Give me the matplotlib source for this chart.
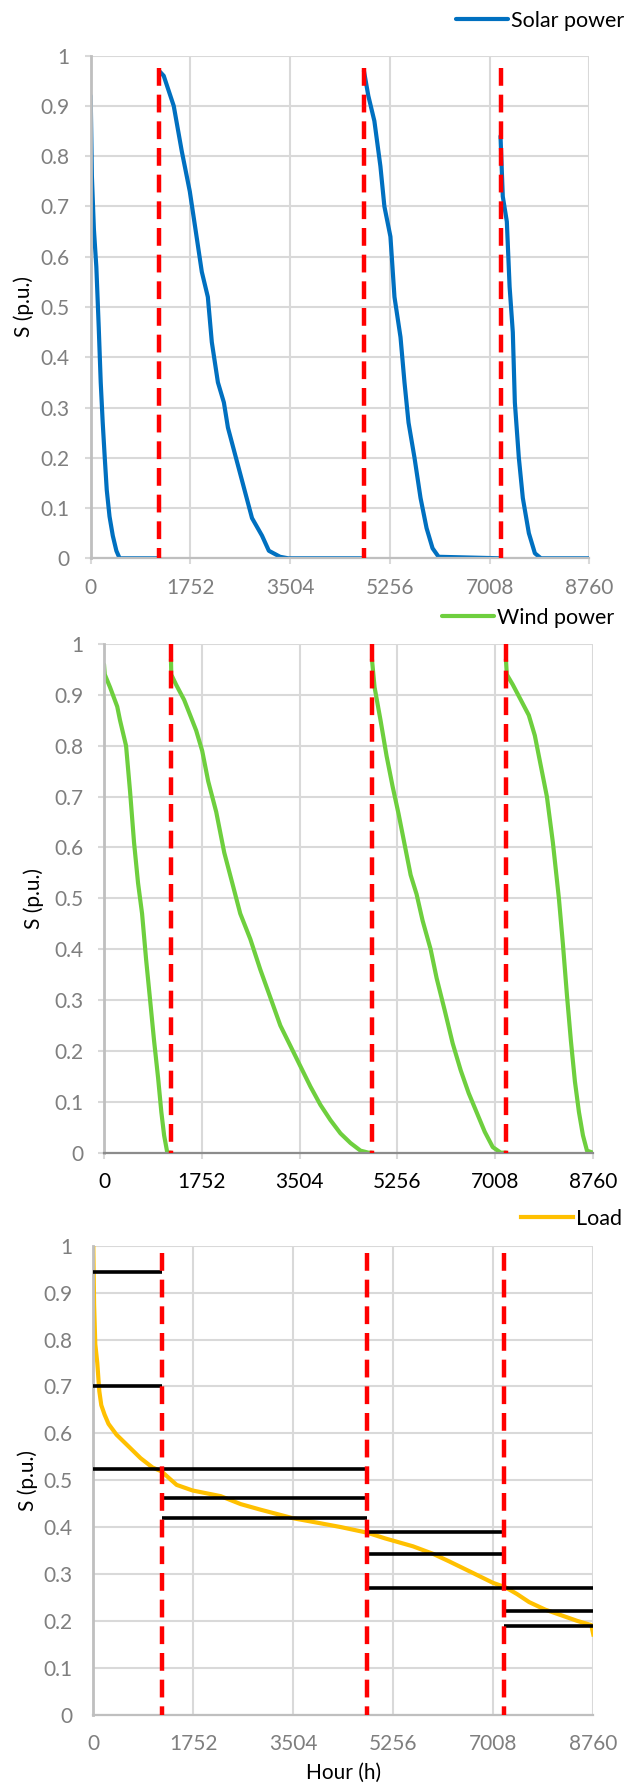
import matplotlib
matplotlib.use("Agg")
from matplotlib import pyplot as plt

plt.rcParams['font.family'] = ['Lato', 'DejaVu Sans']

nan = float('nan')

# season boundaries (hours) and x ticks
boundaries = [1200, 4800, 7200]
x_ticks = [0, 1752, 3504, 5256, 7008, 8760]
y_ticks = [0, 0.1, 0.2, 0.3, 0.4, 0.5, 0.6, 0.7, 0.8, 0.9, 1]

# solar power duration curves (sorted per season, nan = season break)
solar_hours = [0, 21, 56, 99, 141, 176, 211, 247, 282, 331, 388, 451, 508, 1200, 1200,
               1200, 1283, 1459, 1600, 1741, 1847, 1952, 2058, 2128, 2235, 2340, 2411,
               2552, 2693, 2834, 3010, 3130, 3327, 3468, 4800, 4800,
               4800, 4878, 4984, 5090, 5160, 5266, 5337, 5443, 5513, 5584, 5689, 5795,
               5901, 6006, 6112, 7200, 7200,
               7200, 7240, 7311, 7360, 7416, 7452, 7522, 7592, 7698, 7804, 7910, 8760]
solar_values = [0.92, 0.76, 0.655, 0.58, 0.46, 0.35, 0.27, 0.20, 0.136, 0.083, 0.045, 0.015, 0.0, 0.0, nan,
                0.97, 0.96, 0.90, 0.81, 0.73, 0.65, 0.57, 0.52, 0.43, 0.35, 0.31, 0.26,
                0.20, 0.14, 0.08, 0.045, 0.015, 0.003, 0.0, 0.0, nan,
                0.97, 0.92, 0.87, 0.78, 0.70, 0.64, 0.52, 0.44, 0.35, 0.27, 0.20, 0.12,
                0.06, 0.02, 0.003, 0.0, nan,
                0.84, 0.72, 0.67, 0.54, 0.45, 0.31, 0.20, 0.12, 0.05, 0.01, 0.0, 0.0]

# wind power duration curves
wind_hours = [0, 14, 108, 237, 287, 395, 467, 538, 610, 682, 754, 826, 897, 969, 1027, 1077, 1134, 1200, 1200,
              1200, 1205, 1292, 1436, 1544, 1651, 1759, 1867, 2010, 2154, 2298, 2441, 2621, 2800,
              2980, 3159, 3339, 3518, 3698, 3877, 4057, 4236, 4416, 4595, 4739, 4800, 4800,
              4800, 4847, 4954, 5062, 5170, 5277, 5385, 5493, 5600, 5708, 5851, 5959, 6103,
              6246, 6390, 6533, 6677, 6821, 6964, 7108, 7200, 7200,
              7200, 7216, 7323, 7467, 7610, 7718, 7826, 7934, 8041, 8149, 8221, 8293, 8364,
              8436, 8508, 8580, 8652, 8760]
wind_values = [0.96, 0.94, 0.915, 0.877, 0.85, 0.80, 0.71, 0.61, 0.53, 0.47, 0.38, 0.30, 0.22, 0.147, 0.08, 0.034, 0.0, 0.0, nan,
               0.97, 0.94, 0.92, 0.89, 0.86, 0.83, 0.79, 0.73, 0.67, 0.59, 0.53, 0.47, 0.42, 0.36,
               0.305, 0.25, 0.21, 0.17, 0.13, 0.094, 0.064, 0.038, 0.019, 0.004, 0.0, 0.0, nan,
               0.97, 0.915, 0.85, 0.78, 0.72, 0.666, 0.606, 0.546, 0.508, 0.456, 0.40, 0.343, 0.28,
               0.215, 0.162, 0.117, 0.079, 0.041, 0.011, 0.0, 0.0, nan,
               0.97, 0.94, 0.92, 0.89, 0.86, 0.82, 0.76, 0.70, 0.61, 0.50, 0.41, 0.31, 0.22,
               0.14, 0.08, 0.034, 0.004, 0.0]

# load duration curve
load_hours = [0, 14, 35, 70, 105, 140, 197, 267, 407, 618, 828, 1039, 1193, 1460, 1741, 2232,
              2583, 2934, 3496, 3987, 4338, 4801, 5110, 5601, 5952, 6233, 6654, 7005, 7216,
              7427, 7637, 7918, 8199, 8479, 8725, 8760]
load_values = [1.0, 0.875, 0.79, 0.75, 0.69, 0.66, 0.64, 0.62, 0.597, 0.572, 0.547, 0.527, 0.519,
               0.49, 0.478, 0.466, 0.449, 0.437, 0.419, 0.408, 0.400, 0.388, 0.376, 0.359, 0.343,
               0.327, 0.302, 0.281, 0.272, 0.257, 0.24, 0.224, 0.212, 0.2, 0.191, 0.171]

# load levels per season
level_values = [0.943, 0.701, 0.523, 0.463, 0.419, 0.389, 0.342, 0.271, 0.222, 0.190]
level_start = [0, 0, 0, 1200, 1200, 4800, 4800, 4800, 7200, 7200]
level_end = [1200, 1200, 4800, 4800, 4800, 7200, 7200, 8760, 8760, 8760]

W, H = 628, 1791
fig = plt.figure(figsize=(W / 100, H / 100), dpi=100)


def make_axes(left, right, top, bottom):
    return fig.add_axes([left / W, 1 - bottom / H, (right - left) / W, (bottom - top) / H])


def style_axes(ax, xtick_color, bottom_color, tick_len):
    ax.set_xlim(0, 8760)
    ax.set_ylim(0, 1)
    ax.set_xticks(x_ticks)
    ax.set_yticks(y_ticks)
    ax.set_yticklabels(['0', '0.1', '0.2', '0.3', '0.4', '0.5', '0.6', '0.7', '0.8', '0.9', '1'])
    ax.grid(True, color='#D9D9D9', linewidth=1.5)
    ax.set_axisbelow(True)
    for side in ['top', 'right']:
        ax.spines[side].set_visible(False)
    ax.spines['left'].set_color('#BFBFBF')
    ax.spines['left'].set_linewidth(2)
    ax.spines['bottom'].set_color(bottom_color)
    ax.spines['bottom'].set_linewidth(1.6)
    ax.tick_params(axis='x', colors='#D9D9D9', labelcolor=xtick_color, labelsize=15,
                   length=tick_len, width=1.5, pad=14 - tick_len)
    ax.tick_params(axis='y', colors='#D9D9D9', labelcolor='#7F7F7F', labelsize=15,
                   length=tick_len, width=1.5, pad=15 - tick_len)


def draw_boundaries(ax, top):
    # drawn top-down so the dash pattern starts at the top
    for b in boundaries:
        ax.plot([b, b], [top, 0], color='#FF0000', linewidth=3.2,
                linestyle=(0, (4.0, 2.0)), zorder=5)


def add_legend(ax, right_px, y_px):
    h, l = ax.get_legend_handles_labels()
    ax.legend(h[:1], l[:1], loc='center right', bbox_to_anchor=(right_px / W, 1 - y_px / H),
              bbox_transform=fig.transFigure, frameon=False, fontsize=15.5, handlelength=2.4,
              handletextpad=0.15, borderpad=0, borderaxespad=0)


# Solar panel
ax1 = make_axes(90.7, 589.3, 55.7, 558.3)
style_axes(ax1, '#7F7F7F', '#BFBFBF', 4.3)
ax1.plot(solar_hours, solar_values, color='#0070C0', linewidth=3.0, label='Solar power',
         solid_joinstyle='round', solid_capstyle='round')
draw_boundaries(ax1, 0.975)
ax1.set_ylabel('S (p.u.)', fontsize=15, va='center')
ax1.yaxis.set_label_coords(-0.134, 0.5)
add_legend(ax1, 624, 21)

# Wind panel
ax2 = make_axes(104, 593, 644, 1152.7)
style_axes(ax2, '#000000', '#8C8C8C', 4.3)
ax2.plot(wind_hours, wind_values, color='#6ECF3E', linewidth=3.0, label='Wind power',
         solid_joinstyle='round', solid_capstyle='round')
draw_boundaries(ax2, 1.0)
ax2.set_ylabel('S (p.u.)', fontsize=15, va='center')
ax2.yaxis.set_label_coords(-0.143, 0.5)
add_legend(ax2, 614, 618)

# Load panel
ax3 = make_axes(93.3, 593.3, 1245.7, 1714.7)
style_axes(ax3, '#7F7F7F', '#BFBFBF', 0)
ax3.plot(load_hours, load_values, color='#FFC000', linewidth=3.0, label='Load',
         solid_joinstyle='round')
ax3.hlines(level_values, level_start, level_end, colors='black', linewidth=2.6, zorder=4)
draw_boundaries(ax3, 0.985)
ax3.set_ylabel('S (p.u.)', fontsize=15, va='center')
ax3.yaxis.set_label_coords(-0.131, 0.5)
ax3.set_xlabel('Hour (h)', fontsize=15, va='center')
ax3.xaxis.set_label_coords(0.5, -0.124)
add_legend(ax3, 622, 1219)

plt.savefig('out.png', dpi=100)
plt.close()
